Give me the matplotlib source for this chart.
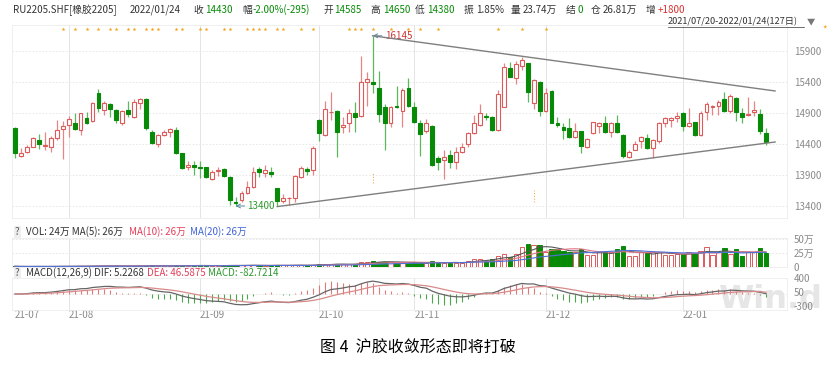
import numpy as np
import pandas as pd
import matplotlib
matplotlib.use('Agg')
import matplotlib.pyplot as plt

plt.rcParams['font.family'] = ['Noto Sans CJK SC', 'DejaVu Sans']
plt.rcParams['axes.unicode_minus'] = False

W, H = 831, 366

# daily OHLC of RU2205, 2021/07/20 - 2022/01/24 (127 trading days)
opens = [14665, 14210, 14275, 14355, 14465, 14370, 14345, 14490, 14635, 14705,
         14735, 14625, 14825, 14775, 15215, 14950, 15045, 14950, 14735, 14950,
         14830, 15055, 15125, 14590, 14395, 14545, 14600, 14625, 14250, 14025,
         14060, 14035, 14025, 13830, 13970, 13990, 13875, 13470, 13495, 13605,
         13700, 13990, 13925, 13955, 13685, 13480, 13525, 13535, 13875, 13990,
         13980, 14785, 14545, 14910, 14925, 14670, 14745, 14905, 14850, 15405,
         15395, 15300, 14990, 14745, 15015, 14930, 15300, 14990, 14735, 14615,
         14695, 14180, 14140, 14225, 14115, 14275, 14400, 14585, 14705, 14855,
         14840, 14625, 15000, 15620, 15460, 15660, 15700, 15055, 15395, 14930,
         15260, 14735, 14680, 14665, 14510, 14615, 14345, 14585, 14690, 14735,
         14600, 14735, 14545, 14195, 14305, 14440, 14490, 14330, 14455, 14745,
         14785, 14815, 14895, 14695, 14750, 14545, 14920, 15000, 15015, 15125,
         14930, 15135, 14895, 14870, 14920, 14880, 14585]
highs = [14680, 14330, 14385, 14510, 14555, 14590, 14530, 14785, 14775, 14850,
         14905, 14905, 14920, 15085, 15280, 15095, 15055, 14960, 14950, 15100,
         15120, 15135, 15135, 14625, 14555, 14625, 14665, 14670, 14260, 14125,
         14125, 14125, 14035, 13980, 14035, 14010, 13885, 13550, 13645, 13810,
         14035, 14035, 14060, 14025, 13685, 13595, 13550, 13900, 14045, 14035,
         14370, 14800, 15095, 15235, 14950, 14830, 14960, 15085, 15825, 15565,
         16145, 15585, 15045, 15015, 15335, 15300, 15460, 15085, 14785, 14800,
         14705, 14205, 14295, 14295, 14355, 14410, 14600, 14870, 15045, 14895,
         14850, 15270, 15700, 15730, 15740, 15795, 15710, 15445, 15420, 15310,
         15270, 14830, 14745, 14815, 14745, 14615, 14490, 14760, 14760, 14850,
         14760, 14870, 14560, 14295, 14440, 14530, 14555, 14475, 14760, 14830,
         14830, 14920, 14920, 14975, 14760, 14930, 15085, 15030, 15110, 15235,
         15200, 15150, 14975, 15150, 15095, 14970, 14650]
lows = [14180, 14195, 14260, 14345, 14315, 14305, 14275, 14465, 14155, 14520,
        14625, 14545, 14715, 14760, 14920, 14870, 14830, 14745, 14705, 14830,
        14815, 14960, 14625, 14400, 14355, 14530, 14520, 14240, 13990, 13980,
        13900, 13845, 13845, 13820, 13885, 13875, 13415, 13400, 13470, 13595,
        13685, 13875, 13875, 13875, 13405, 13455, 13415, 13470, 13855, 13900,
        13900, 14440, 14530, 14785, 14185, 14585, 14600, 14600, 14830, 15015,
        15215, 14760, 14305, 14680, 14975, 14680, 14990, 14745, 14205, 14570,
        14045, 13980, 13830, 14010, 13990, 14260, 14355, 14560, 14690, 14785,
        14615, 14610, 14990, 15475, 15360, 15595, 15085, 14965, 14850, 14910,
        14735, 14680, 14475, 14500, 14490, 14260, 14330, 14555, 14585, 14570,
        14510, 14570, 14170, 14170, 14295, 14330, 14320, 14180, 14420, 14680,
        14670, 14760, 14615, 14680, 14530, 14530, 14785, 14870, 14870, 14920,
        14895, 14775, 14745, 14850, 14850, 14555, 14380]
closes = [14250, 14250, 14355, 14490, 14400, 14385, 14490, 14625, 14695, 14800,
          14640, 14895, 14745, 15065, 14985, 15055, 14965, 14785, 14930, 14880,
          15085, 15125, 14655, 14410, 14545, 14590, 14635, 14260, 14010, 14060,
          14035, 14010, 13875, 13955, 13980, 13890, 13495, 13445, 13615, 13700,
          13945, 13940, 13980, 13915, 13480, 13525, 13535, 13885, 14010, 13970,
          14330, 14570, 14960, 14920, 14600, 14705, 14895, 14830, 15405, 15445,
          15370, 14880, 14745, 15000, 15000, 15270, 15015, 14760, 14560, 14745,
          14060, 14115, 14185, 14115, 14275, 14355, 14570, 14745, 14895, 14840,
          14625, 15200, 15635, 15485, 15685, 15755, 15245, 15430, 14930, 15230,
          14745, 14710, 14625, 14510, 14615, 14370, 14475, 14750, 14735, 14600,
          14745, 14600, 14205, 14275, 14400, 14510, 14330, 14465, 14745, 14815,
          14825, 14850, 14690, 14745, 14545, 14905, 15045, 15015, 15085, 14930,
          15180, 14920, 14840, 14885, 14940, 14615, 14430]
# volume, unit: 万手
volumes = [1.2, 0.8, 0.9, 1.0, 1.1, 0.9, 1.0, 1.2, 1.5, 1.3, 1.2,
           1.8, 1.5, 2.0, 2.4, 1.8, 1.6, 1.9, 1.7, 1.8, 2.0,
           1.9, 2.6, 2.8, 2.2, 1.8, 1.7, 2.9, 3.2, 2.5, 2.3,
           2.8, 2.9, 2.4, 2.2, 2.3, 3.5, 3.2, 2.8, 3.0, 3.4,
           2.6, 2.5, 2.4, 3.8, 2.9, 2.7, 3.6, 3.1, 2.8, 4.0,
           5.5, 5.0, 4.8, 6.2, 4.5, 4.6, 5.2,
           9.0, 8.5, 10.5, 9.8, 9.5, 8.2, 7.8, 8.8, 8.0,
           7.7, 6.5, 6.5, 11.3, 7.0, 7.5, 7.7, 7.7, 7.7, 11.3, 13.7, 13.7, 11.3, 13.7,
           20.2, 23.2, 17.3, 23.2, 35.1, 41.1, 39.3, 39.3, 27.4,
           32.1, 31.5, 28.6, 26.2, 26.2, 32.1, 21.4, 21.4, 26.2, 26.2,
           26.2, 31.5, 38.1, 19.0, 19.0, 26.2, 24.4, 27.4, 27.4, 21.4,
           21.4, 22.6, 22.6, 27.4, 24.4, 28.6, 35.1, 21.4, 27.4, 33.3,
           22.6, 31.5, 20.2, 26.2, 27.4, 33.3, 24.4]

month_idx = [0, 9, 31, 51, 67, 89, 112]
month_labels = ['21-07', '21-08', '21-09', '21-10', '21-11', '21-12', '22-01']
star_idx = [8, 10, 12, 14, 16, 17, 19, 20, 22, 23, 24, 27, 28, 31, 32, 35, 36,
            39, 40, 41, 42, 44, 45, 48, 50, 56, 57, 58, 60, 63, 66, 68, 71, 81, 85, 89]
price_ticks = [13400, 13900, 14400, 14900, 15400, 15900]
vol_ticks = [0, 25, 50]
vol_tick_labels = ['0', '25万', '50万']
macd_ticks = [-300, 50, 400]
# converging triangle: (index, price) endpoints
upper_line = ([60, 127.5], [16145, 15255])
lower_line = ([44, 127.5], [13390, 14432])

RED = '#dc5a5a'
RED_W = '#e58585'
GREEN = '#078a07'
GREEN_W = '#5cb85c'
GRID = '#e4e4e4'
TXT = '#333333'
GRAY = '#8a8a8a'

o = np.array(opens, float)
h = np.array(highs, float)
l = np.array(lows, float)
c = np.array(closes, float)
v = np.array(volumes, float)
n = len(c)
x = np.arange(n)
up = c >= o

fig = plt.figure(figsize=(W / 100, H / 100), dpi=100)


def box(left, top, right, bottom):
    return [left / W, 1 - bottom / H, (right - left) / W, (bottom - top) / H]


def ftext(px, py, s, **kw):
    kw.setdefault('va', 'center')
    kw.setdefault('fontsize', 7)
    return fig.text(px / W, 1 - py / H, s, **kw)


# watermark goes first, behind the transparent panels
ftext(718, 299, 'Win.d', color='#e6e6e6', fontsize=23, fontweight='bold',
      family='DejaVu Sans', zorder=-5)

ax = fig.add_axes(box(12, 25, 787, 218))
axv = fig.add_axes(box(12, 238, 787, 267))
axm = fig.add_axes(box(12, 278, 787, 310))

for a in (ax, axv, axm):
    a.set_xlim(-0.5, 129.5)
    a.patch.set_alpha(0)
    for s in a.spines.values():
        s.set_color('#ececec')
        s.set_linewidth(0.6)
    a.yaxis.tick_right()
    a.tick_params(axis='y', length=0, pad=5, labelsize=7, labelcolor=GRAY)
    a.tick_params(axis='x', length=0)
    for m in month_idx[1:]:
        a.axvline(m, color=GRID, lw=0.7, zorder=0)

# ---- main candle chart
ax.set_ylim(13206, 16319)
ax.set_yticks(price_ticks)
ax.set_xticks([])
for p in price_ticks:
    ax.axhline(p, color=GRID, lw=0.6, ls=(0, (2, 2)), zorder=0)

ax.vlines(x, l, h, colors=np.where(up, RED_W, GREEN_W), lw=0.9, zorder=2)
body_bottom = np.minimum(o, c)
body_h = np.maximum(np.abs(c - o), 8)
ax.bar(x, body_h, bottom=body_bottom, width=0.64,
       facecolor=np.where(up, 'white', GREEN), edgecolor=np.where(up, RED, GREEN),
       linewidth=0.8, zorder=3)

ax.plot(*upper_line, color='#7f7f7f', lw=1, zorder=4)
ax.plot(*lower_line, color='#7f7f7f', lw=1, zorder=4)

ax.annotate('16145', xy=(60, 16145), xytext=(62, 16145), va='center', fontsize=7,
            color='#cc3333', arrowprops=dict(arrowstyle='->', color='#5a8ca0', lw=0.7,
                                             shrinkA=0, shrinkB=0))
ax.annotate('13400', xy=(37, 13400), xytext=(39, 13400), va='center', fontsize=7,
            color='#2e9a2e', arrowprops=dict(arrowstyle='->', color='#5a8ca0', lw=0.7,
                                             shrinkA=0, shrinkB=0))

ax.scatter(star_idx, [16255] * len(star_idx), marker=(5, 1), s=7, color='#f5a623',
           lw=0, zorder=5)
ax.vlines([60, 87], [13771, 13464], [13948, 13658], colors='#f0b050', lw=0.8,
          ls=(0, (1, 1.5)), zorder=1)

# ---- volume
axv.set_ylim(0, 52)
axv.set_yticks(vol_ticks)
axv.set_yticklabels(vol_tick_labels)
axv.set_xticks([])
for t in vol_ticks[1:]:
    axv.axhline(t, color=GRID, lw=0.6, ls=(0, (2, 2)), zorder=0)
axv.bar(x, v, width=0.72, facecolor=np.where(up, 'white', GREEN),
        edgecolor=np.where(up, RED, GREEN), linewidth=0.7, zorder=2)
vs = pd.Series(v)
axv.plot(x, vs.rolling(5, min_periods=1).mean(), color='#555555', lw=0.8, zorder=3)
axv.plot(x, vs.rolling(10, min_periods=1).mean(), color='#e07585', lw=0.8, zorder=3)
axv.plot(x, vs.rolling(20, min_periods=1).mean(), color='#4f72d8', lw=0.8, zorder=3)

# ---- MACD(12,26,9)
cs = pd.Series(c)
dif = cs.ewm(span=12, adjust=False).mean() - cs.ewm(span=26, adjust=False).mean()
dea = dif.ewm(span=9, adjust=False).mean()
hist = 2 * (dif - dea)
axm.set_ylim(-400, 400)
axm.set_yticks(macd_ticks)
axm.axhline(0, color=GRID, lw=0.6, ls=(0, (2, 2)), zorder=0)
axm.vlines(x, 0, hist, colors=np.where(hist >= 0, '#e07a7a', '#4aa84a'), lw=0.8, zorder=2)
axm.plot(x, dif, color='#666666', lw=0.9, zorder=3)
axm.plot(x, dea, color='#d98a8a', lw=0.9, zorder=3)
axm.set_xticks(month_idx)
axm.set_xticklabels(month_labels, ha='left', fontsize=7, color=GRAY)
axm.tick_params(axis='x', pad=0)

# ---- header
header = [
    (13, 'RU2205.SHF[橡胶2205]', TXT), (130, '2022/01/24', TXT),
    (193, '收', TXT), (205, '14430', GREEN),
    (242, '幅', TXT), (253, '-2.00%(-295)', GREEN),
    (323, '开', TXT), (334, '14585', GREEN),
    (370, '高', TXT), (383, '14650', GREEN),
    (415, '低', TXT), (427, '14380', GREEN),
    (464, '振', TXT), (476, '1.85%', TXT),
    (511, '量', TXT), (523, '23.74万', TXT),
    (566, '结', TXT), (578, '0', GREEN),
    (591, '仓', TXT), (603, '26.81万', TXT),
    (646, '增', TXT), (658, '+1800', '#d83030'),
]
for px, s, col in header:
    ftext(px, 10, s, color=col)

ftext(668, 21.5, '2021/07/20-2022/01/24(127日)', color=TXT, fontsize=6.6)
fig.add_artist(plt.Line2D([668 / W, 804 / W], [1 - 26.5 / H, 1 - 26.5 / H],
                          color=TXT, lw=0.5))
ftext(807, 21.5, '▼', color='#777777', fontsize=6)
ftext(822, 29, '*', color='#f5a623', fontsize=7)

# sub-panel titles
ftext(15, 232, '?', color='#555555', bbox=dict(boxstyle='square,pad=0.15',
                                              fc='#eeeeee', ec='none'))
ftext(26, 232, 'VOL: 24万 MA(5): 26万', color=TXT)
ftext(129, 232, 'MA(10): 26万', color='#e0405a')
ftext(190, 232, 'MA(20): 26万', color='#3f63d8')

ftext(15, 273, '?', color='#555555', bbox=dict(boxstyle='square,pad=0.15',
                                              fc='#eeeeee', ec='none'))
ftext(26, 273, 'MACD(12,26,9) DIF: 5.2268', color=TXT)
ftext(147, 273, 'DEA: 46.5875', color='#e0405a')
ftext(208, 273, 'MACD: -82.7214', color='#2e9a2e')

# caption
ftext(418, 348, '图 4  沪胶收敛形态即将打破', color='black', fontsize=11.5, ha='center')

fig.savefig('out.png', dpi=100, facecolor='white')
